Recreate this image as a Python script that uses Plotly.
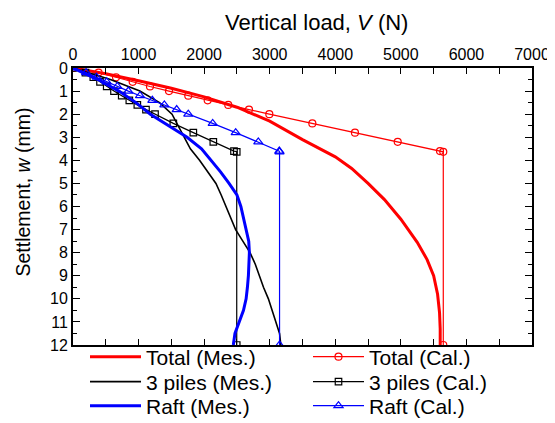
import plotly.graph_objects as go

# ---- data ----
w_cal = [0, 0.2, 0.4, 0.6, 0.8, 1.0, 1.2, 1.4, 1.6, 1.8, 2.0, 2.4, 2.8, 3.2, 3.6, 3.63, 12]
V_total_cal = [0, 390, 656, 910, 1174, 1464, 1758, 2054, 2368, 2684, 2994, 3650, 4300, 4952, 5597, 5647, 5647]
V_piles_cal = [0, 190, 310, 412, 514, 625, 743, 859, 981, 1113, 1251, 1530, 1835, 2140, 2455, 2497, 2497]
V_raft_cal = [0, 200, 360, 514, 676, 844, 1022, 1210, 1393, 1581, 1758, 2130, 2481, 2826, 3146, 3150, 3150]

V_total_mes = [0, 500, 1000, 1500, 2000, 2500, 3000, 3500, 4000, 4250, 4500, 4750, 5000, 5250,
               5400, 5500, 5560, 5590, 5600, 5600]
w_total_mes = [0, 0.25, 0.55, 0.88, 1.25, 1.7, 2.3, 3.1, 3.85, 4.35, 5.0, 5.7, 6.55, 7.55,
               8.3, 9.0, 9.8, 10.6, 11.3, 12.0]

w_mes = [0, 0.5, 1.0, 1.5, 2.0, 2.5, 3.0, 3.5, 4.0, 4.5, 5.0, 5.5, 6.0, 6.5, 7.0, 7.5, 8.0,
         8.5, 9.0, 9.5, 10.0, 10.5, 11.0, 11.5, 12.0]
V_piles_mes = [0, 570, 1020, 1320, 1510, 1600, 1690, 1790, 1930, 2060, 2180, 2260, 2330, 2410,
               2480, 2590, 2700, 2780, 2840, 2905, 2980, 3040, 3090, 3150, 3170]
V_raft_mes = [0, 380, 700, 960, 1180, 1460, 1740, 1960, 2110, 2250, 2380, 2500, 2560, 2600,
              2640, 2680, 2690, 2685, 2675, 2660, 2640, 2600, 2530, 2470, 2445]

x_ticks = [0, 1000, 2000, 3000, 4000, 5000, 6000, 7000]
y_ticks = list(range(0, 13))

FONT = "Arial, Liberation Sans, sans-serif"
RED, BLK, BLU = "#FF0000", "#000000", "#0000FF"
# the page body adds an 8px offset, so the figure is 8px smaller than the window
W, H = 547, 415
ML, MR, MT, MB = 65, 23, 60, 78
PW, PH = W - ML - MR, H - MT - MB

fig = go.Figure()

fig.add_trace(go.Scatter(x=V_total_mes, y=w_total_mes, mode="lines", name="Total (Mes.)",
                         line=dict(color=RED, width=3), legend="legend2"))
fig.add_trace(go.Scatter(x=V_total_cal, y=w_cal, mode="lines+markers", name="Total (Cal.)",
                         line=dict(color=RED, width=1.2),
                         marker=dict(symbol="circle-open", size=7, color=RED, line=dict(width=1.2)),
                         legend="legend3"))
fig.add_trace(go.Scatter(x=V_piles_mes, y=w_mes, mode="lines", name="3 piles (Mes.)",
                         line=dict(color=BLK, width=1.6), legend="legend4"))
fig.add_trace(go.Scatter(x=V_piles_cal, y=w_cal, mode="lines+markers", name="3 piles (Cal.)",
                         line=dict(color=BLK, width=1.2),
                         marker=dict(symbol="square-open", size=6.5, color=BLK, line=dict(width=1.2)),
                         legend="legend5"))
fig.add_trace(go.Scatter(x=V_raft_mes, y=w_mes, mode="lines", name="Raft (Mes.)",
                         line=dict(color=BLU, width=3), legend="legend6"))
fig.add_trace(go.Scatter(x=V_raft_cal, y=w_cal, mode="lines+markers", name="Raft (Cal.)",
                         line=dict(color=BLU, width=1.2),
                         marker=dict(symbol="triangle-up-open", size=8, color=BLU, line=dict(width=1.2)),
                         legend="legend7"))

def leg(xpx, ypx):
    return dict(x=xpx / W, y=1 - ypx / H, xref="container", yref="container",
                xanchor="left", yanchor="middle", orientation="v",
                font=dict(size=21, family=FONT), itemwidth=51,
                bgcolor="rgba(0,0,0,0)", borderwidth=0)

col1, col2 = 77, 300
rows = [349, 374, 398]

fig.update_layout(
    width=W, height=H,
    margin=dict(l=ML, r=MR, t=MT, b=MB, autoexpand=False),
    paper_bgcolor="white", plot_bgcolor="white",
    font=dict(family=FONT, size=16, color="black"),
    showlegend=True,
    legend2=leg(col1, rows[0]),
    legend3=leg(col2, rows[0]),
    legend4=leg(col1, rows[1]),
    legend5=leg(col2, rows[1]),
    legend6=leg(col1, rows[2]),
    legend7=leg(col2, rows[2]),
    annotations=[
        dict(text="Vertical load, <i>V</i> (N)", xref="paper", yref="paper",
             x=(308 - ML) / PW, y=1 + (MT - 0.5) / PH, xanchor="center", yanchor="top",
             showarrow=False, borderpad=0, font=dict(size=22, family=FONT)),
        dict(text="Settlement, <i>w</i> (mm)", xref="paper", yref="paper",
             x=(14 - ML) / PW, y=1 - (184.5 - MT) / PH, xanchor="center", yanchor="middle",
             textangle=-90, showarrow=False, font=dict(size=19.5, family=FONT)),
    ],
)

fig.update_xaxes(
    side="top", range=[0, 7000], tickvals=x_ticks, ticktext=[str(v) for v in x_ticks],
    ticks="inside", ticklen=6, tickwidth=1.2, tickcolor="black",
    minor=dict(dtick=500, ticks="inside", ticklen=6, tickwidth=1.2, tickcolor="black"),
    showline=True, linecolor="black", linewidth=2, mirror="allticks",
    showgrid=False, zeroline=False,
    tickfont=dict(size=16, family=FONT),
)
fig.update_yaxes(
    range=[12, 0], tickvals=y_ticks, ticktext=[str(v) for v in y_ticks],
    ticks="inside", ticklen=7, tickwidth=1.2, tickcolor="black",
    minor=dict(dtick=0.5, ticks="inside", ticklen=4, tickwidth=1.2, tickcolor="black"),
    showline=True, linecolor="black", linewidth=2, mirror="allticks",
    showgrid=False, zeroline=False,
    tickfont=dict(size=16, family=FONT),
)

fig.write_html("out.html")
